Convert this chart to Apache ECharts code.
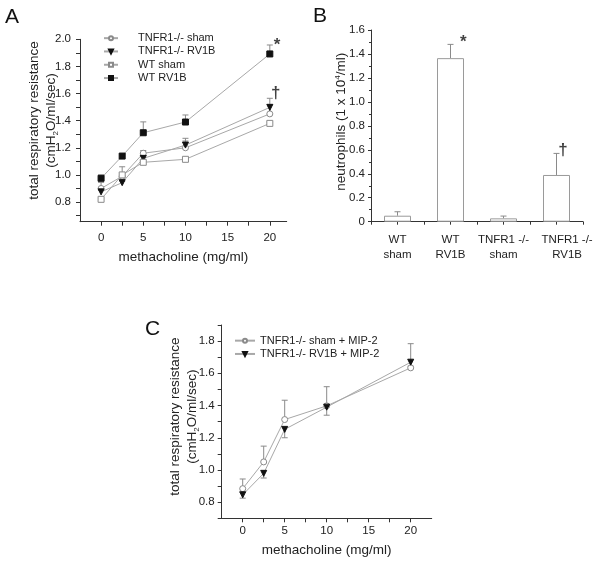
<!DOCTYPE html>
<html><head><meta charset="utf-8">
<script src="https://cdn.jsdelivr.net/npm/echarts@6/dist/echarts.min.js"></script>
<style>html,body{margin:0;padding:0;background:#fff}#c{width:600px;height:562px}</style>
</head><body><div id="c"></div>
<script>
// ---------- data ----------
const doses = [0, 2.5, 5, 10, 20];
const namesA = ['TNFR1-/- sham', 'TNFR1-/- RV1B', 'WT sham', 'WT RV1B'];
const tnfShamA = [0.90, 0.99, 1.16, 1.20, 1.45];
const tnfShamAErr = [0.045, 0.02, 0.02, 0.05, 0.07];
const tnfRvA = [0.875, 0.943, 1.122, 1.22, 1.498];
const tnfRvAErr = [0.01, 0.01, 0.02, 0.05, 0.067];
const wtShamA = [0.82, 1.0, 1.093, 1.115, 1.38];
const wtShamAErr = [0.01, 0.06, 0.01, 0.01, 0.01];
const wtRvA = [0.975, 1.139, 1.311, 1.39, 1.892];
const wtRvAErr = [0.025, 0.01, 0.08, 0.052, 0.066];

const catsB = ['WT\nsham', 'WT\nRV1B', 'TNFR1 -/-\nsham', 'TNFR1 -/-\nRV1B'];
const barPosB = [1, 2, 3, 4];
const labelPosB = [1, 2, 3, 4.2];
const neutroB = [0.05, 1.365, 0.028, 0.39];
const neutroBErr = [0.033, 0.115, 0.019, 0.18];

const namesC = ['TNFR1-/- sham + MIP-2', 'TNFR1-/- RV1B + MIP-2'];
const shamC = [0.884, 1.05, 1.313, 1.398, 1.634];
const shamCErr = [0.06, 0.098, 0.12, 0.119, 0.01];
const rvC = [0.846, 0.979, 1.252, 1.39, 1.669];
const rvCErr = [-0.021, -0.029, -0.052, -0.05, 0.115];

const xLabelsDose = [0, 5, 10, 15, 20];
const xTicksDose = [0, 2.5, 5, 7.5, 10, 12.5, 15, 17.5, 20];
const yLabelsA = [0.8, 1.0, 1.2, 1.4, 1.6, 1.8, 2.0];
const yTicksA = [0.7, 0.8, 0.9, 1.0, 1.1, 1.2, 1.3, 1.4, 1.5, 1.6, 1.7, 1.8, 1.9, 2.0];
const yLabelsC = [0.8, 1.0, 1.2, 1.4, 1.6, 1.8];
const yTicksC = [0.7, 0.8, 0.9, 1.0, 1.1, 1.2, 1.3, 1.4, 1.5, 1.6, 1.7, 1.8, 1.9];
const xTicksB = [0.5, 1, 1.5, 2, 2.5, 3, 3.5, 4, 4.5];

const annotA = [[20.85, 1.955, '*'], [20.7, 1.60, '†']];
const annotB = [[2.24, 1.50, '*'], [4.12, 0.60, '†']];

// ---------- helpers ----------
const FONT = 'Liberation Sans, Arial, sans-serif';
const AX = '#333';
const LINE = '#a8a8a8';
const OPEN = '#8a8a8a';
const DARK = '#111';
const ERR = '#8a8a8a';

function pairs(xs, ys) { return xs.map((x, i) => [x, ys[i]]); }
function triples(xs, ys, es) { return xs.map((x, i) => [x, ys[i], es[i]]); }

function errRender(params, api) {
  const x = api.value(0), y = api.value(1), e = api.value(2);
  const p0 = api.coord([x, y]);
  const p1 = api.coord([x, y + e]);
  const st = { stroke: ERR, lineWidth: 1 };
  return { type: 'group', children: [
    { type: 'line', shape: { x1: p0[0], y1: p0[1], x2: p1[0], y2: p1[1] }, style: st },
    { type: 'line', shape: { x1: p1[0] - 3, y1: p1[1], x2: p1[0] + 3, y2: p1[1] }, style: st }
  ]};
}
function errSeries(xi, yi, data) {
  return { type: 'custom', xAxisIndex: xi, yAxisIndex: yi, renderItem: errRender, data: data, z: 1, silent: true };
}
function lineSeries(name, xi, yi, data, symbol, filled, rotate) {
  return {
    type: 'line', name: name, xAxisIndex: xi, yAxisIndex: yi, data: data,
    symbol: symbol, symbolSize: 6, symbolRotate: rotate || 0, showAllSymbol: true,
    lineStyle: { color: LINE, width: 1 },
    itemStyle: filled ? { color: DARK, borderColor: DARK, borderWidth: 1 } : { color: '#fff', borderColor: OPEN, borderWidth: 1 },
    emphasis: { disabled: true }, z: 3, animation: false
  };
}
function annotSeries(xi, yi, data, size) {
  return {
    type: 'scatter', xAxisIndex: xi, yAxisIndex: yi, data: data, symbolSize: 0, silent: true,
    label: { show: true, position: 'inside', formatter: p => p.value[2], color: '#111',
      fontFamily: FONT, fontSize: size, fontWeight: 'bold' }
  };
}
function axisBase(extra) {
  return Object.assign({
    nameMoveOverlap: false,
    axisLine: { show: true, onZero: false, lineStyle: { color: AX, width: 1 } },
    axisTick: { show: true, inside: false, length: 4, lineStyle: { color: AX } },
    splitLine: { show: false },
    nameTextStyle: { fontFamily: FONT, fontSize: 13.5, color: '#222' }
  }, extra);
}
const labelStyle = { fontFamily: FONT, fontSize: 11.5, color: '#222', showMinLabel: true, showMaxLabel: true, hideOverlap: false };
const yName = 'total respiratory resistance\n(cmH{sub|2}O/ml/sec)';
const yNameRich = { sub: { fontFamily: FONT, fontSize: 8, verticalAlign: 'bottom', padding: [6, 0, 0, 0], color: '#222' } };

const option = {
  animation: false,
  backgroundColor: '#fff',
  textStyle: { fontFamily: FONT },
  grid: [
    { left: 80, top: 39.3, width: 206.7, height: 182.4 },
    { left: 371, top: 30, width: 212, height: 191.7 },
    { left: 221.7, top: 325, width: 210, height: 193.3 }
  ],
  xAxis: [
    axisBase({ gridIndex: 0, type: 'value', min: -2.5, max: 22,
      axisTick: { show: true, length: 4, lineStyle: { color: AX }, customValues: xTicksDose },
      axisLabel: Object.assign({ customValues: xLabelsDose, margin: 10 }, labelStyle),
      name: 'methacholine (mg/ml)', nameLocation: 'middle', nameGap: 29 }),
    axisBase({ gridIndex: 1, type: 'value', min: 0.5, max: 4.5,
      axisTick: { show: true, length: 3, lineStyle: { color: AX }, customValues: xTicksB },
      axisLabel: Object.assign({}, labelStyle, { customValues: labelPosB, margin: 11, lineHeight: 15,
        formatter: v => catsB[labelPosB.indexOf(v)] || '' }) }),
    axisBase({ gridIndex: 2, type: 'value', min: -2.5, max: 22.5,
      axisTick: { show: true, length: 4, lineStyle: { color: AX }, customValues: xTicksDose },
      axisLabel: Object.assign({ customValues: xLabelsDose, margin: 7 }, labelStyle),
      name: 'methacholine (mg/ml)', nameLocation: 'middle', nameGap: 25 })
  ],
  yAxis: [
    axisBase({ gridIndex: 0, type: 'value', min: 0.655, max: 2.0,
      axisTick: { show: true, length: 4, lineStyle: { color: AX }, customValues: yTicksA },
      axisLabel: Object.assign({ customValues: yLabelsA, margin: 9, formatter: v => v.toFixed(1) }, labelStyle),
      name: yName, nameLocation: 'middle', nameGap: 20,
      nameTextStyle: { fontFamily: FONT, fontSize: 13.5, color: '#222', lineHeight: 17, rich: yNameRich, padding: [0, 0, 0, 20] } }),
    axisBase({ gridIndex: 1, type: 'value', min: 0, max: 1.6, interval: 0.2,
      axisTick: { show: true, length: 3, lineStyle: { color: AX } },
      minorTick: { show: true, splitNumber: 2, length: 2, lineStyle: { color: AX } },
      axisLabel: Object.assign({ margin: 6, formatter: v => v === 0 ? '0' : v.toFixed(1) }, labelStyle),
      name: 'neutrophils (1 x 10{sup|4}/ml)', nameLocation: 'middle', nameGap: 23,
      nameTextStyle: { fontFamily: FONT, fontSize: 13.5, color: '#222', padding: [0, 0, 0, 8],
        rich: { sup: { fontFamily: FONT, fontSize: 8, verticalAlign: 'top', padding: [0, 0, 6, 0], color: '#222' } } } }),
    axisBase({ gridIndex: 2, type: 'value', min: 0.7, max: 1.9,
      axisTick: { show: true, length: 4, lineStyle: { color: AX }, customValues: yTicksC },
      axisLabel: Object.assign({ customValues: yLabelsC, margin: 7, formatter: v => v.toFixed(1) }, labelStyle),
      name: yName, nameLocation: 'middle', nameGap: 20.5,
      nameTextStyle: { fontFamily: FONT, fontSize: 13.5, color: '#222', lineHeight: 17, rich: yNameRich, padding: [0, 0, 0, 10] } })
  ],
  legend: [
    { data: namesA, orient: 'vertical', left: 98, top: 26.5, itemWidth: 14, itemHeight: 5, itemGap: 0,
      selectedMode: false, textStyle: { fontFamily: FONT, fontSize: 11, color: '#222', lineHeight: 13.3, padding: [0, 0, 0, 15] } },
    { data: namesC, orient: 'vertical', left: 229, top: 329, itemWidth: 20, itemHeight: 5, itemGap: 0,
      selectedMode: false, textStyle: { fontFamily: FONT, fontSize: 11, color: '#222', lineHeight: 13.3 } }
  ],
  graphic: [
    { type: 'text', left: 5, top: 7, style: { text: 'A', fontFamily: FONT, fontSize: 21, fill: '#111' } },
    { type: 'text', left: 313, top: 6, style: { text: 'B', fontFamily: FONT, fontSize: 21, fill: '#111' } },
    { type: 'text', left: 145, top: 319, style: { text: 'C', fontFamily: FONT, fontSize: 21, fill: '#111' } }
  ],
  series: [
    errSeries(0, 0, triples(doses, tnfShamA, tnfShamAErr)),
    errSeries(0, 0, triples(doses, tnfRvA, tnfRvAErr)),
    errSeries(0, 0, triples(doses, wtShamA, wtShamAErr)),
    errSeries(0, 0, triples(doses, wtRvA, wtRvAErr)),
    lineSeries(namesA[0], 0, 0, pairs(doses, tnfShamA), 'circle', false),
    lineSeries(namesA[1], 0, 0, pairs(doses, tnfRvA), 'triangle', true, 180),
    lineSeries(namesA[2], 0, 0, pairs(doses, wtShamA), 'rect', false),
    lineSeries(namesA[3], 0, 0, pairs(doses, wtRvA), 'rect', true),
    annotSeries(0, 0, annotA, 17),

    { type: 'bar', xAxisIndex: 1, yAxisIndex: 1, barWidth: 27, z: 2,
      data: pairs(barPosB, neutroB),
      itemStyle: { color: '#fff', borderColor: '#9a9a9a', borderWidth: 1 }, silent: true },
    errSeries(1, 1, triples(barPosB, neutroB, neutroBErr)),
    annotSeries(1, 1, annotB, 17),

    errSeries(2, 2, triples(doses, shamC, shamCErr)),
    errSeries(2, 2, triples(doses, rvC, rvCErr)),
    lineSeries(namesC[0], 2, 2, pairs(doses, shamC), 'circle', false),
    lineSeries(namesC[1], 2, 2, pairs(doses, rvC), 'triangle', true, 180)
  ]
};
const chart = echarts.init(document.getElementById('c'), null, { renderer: 'canvas' });
chart.setOption(option);
</script>
</body></html>
